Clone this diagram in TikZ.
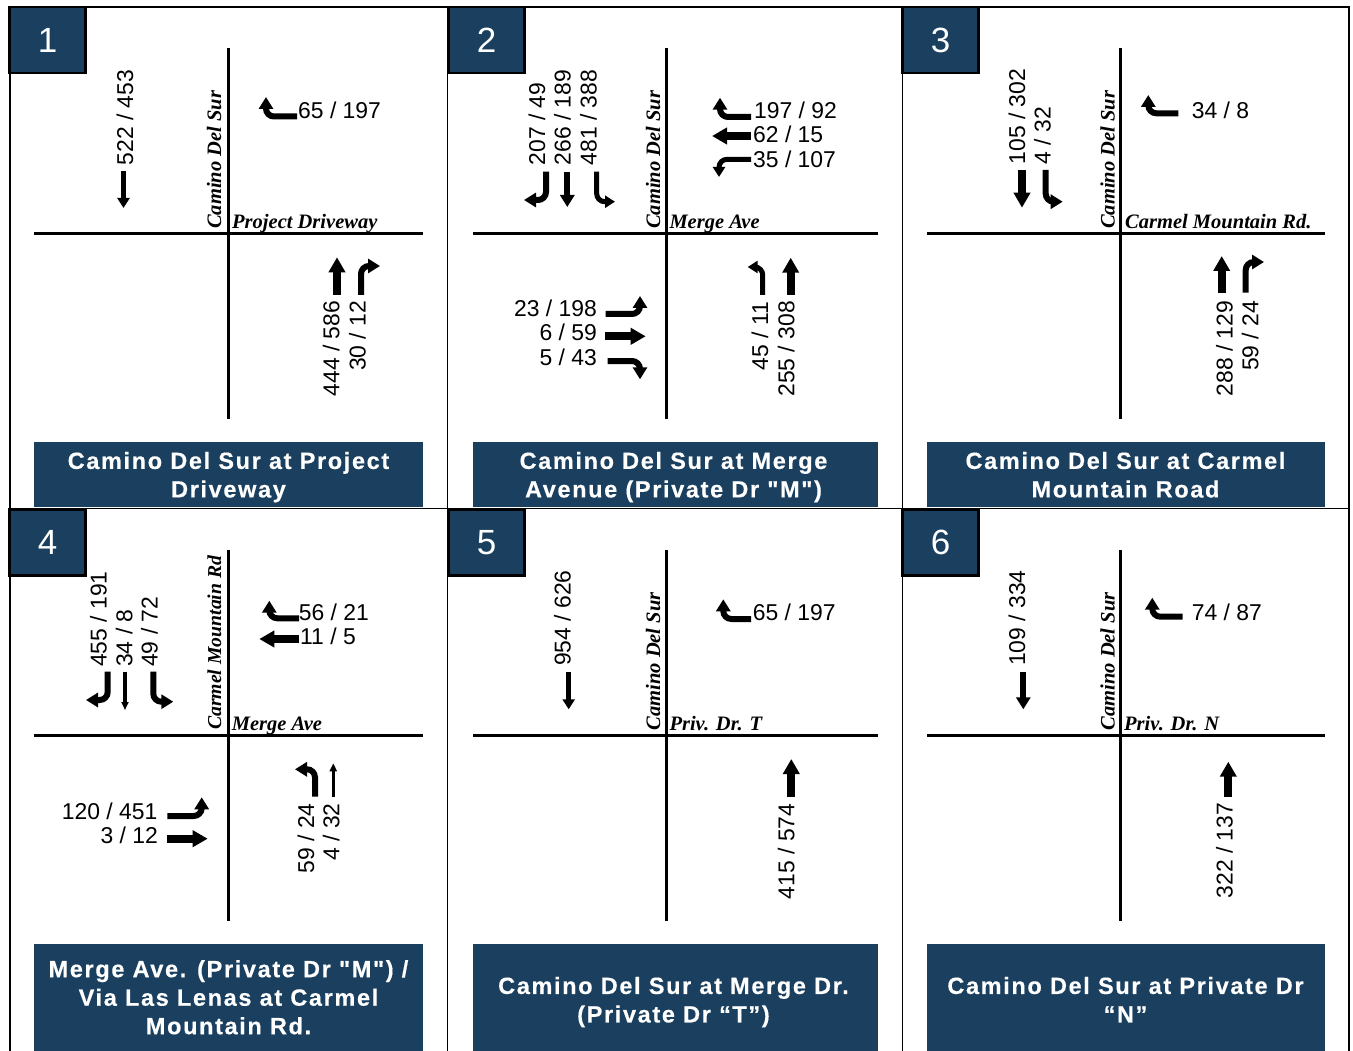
\documentclass[tikz,border=0pt]{standalone}
\usepackage{fontspec}
\setmainfont{Liberation Sans}
\newfontfamily\timesfont{Liberation Serif}
\newfontfamily\titlefont[LetterSpace=7, BoldFeatures={FakeBold=0.4}]{Liberation Sans}
\usepackage{tikz}
\usetikzlibrary{arrows.meta}
\definecolor{darknavy}{RGB}{26,63,95}

\begin{document}
\begin{tikzpicture}[
  x=1pt, y=-1pt,
  road/.style={line width=3pt},
  frameline/.style={line width=1.6pt},
  mvheavy/.style={line width=8pt, -{Triangle[width=16pt, length=15pt]}},
  mvmed/.style={line width=6pt, -{Triangle[width=14pt, length=12pt]}},
  mvlight/.style={line width=5pt, -{Triangle[width=12pt, length=10pt]}},
  mvthin/.style={line width=3.5pt, -{Triangle[width=7pt, length=8pt]}},
  turn/.style={rounded corners=8pt},
  vol/.style={inner sep=0pt, font=\fontsize{22.9}{23}\selectfont},
  volup/.style={vol, rotate=90},
  roadname/.style={inner sep=0pt, font=\timesfont\bfseries\itshape\fontsize{20.5}{20.5}\selectfont},
  roadup/.style={roadname, rotate=90, anchor=base west},
  numbox/.style={draw=black, line width=2.5pt, fill=darknavy, text=white, minimum width=76pt, minimum height=66pt, inner sep=0pt, font=\fontsize{35}{35}\selectfont},
  titlebar/.style={fill=darknavy, inner sep=0pt},
  titletext/.style={text=white, inner sep=0pt, align=center, font=\titlefont\bfseries\fontsize{23.5}{28.5}\selectfont}
]
\useasboundingbox (0,0) rectangle (1353,1051);

\node[titlebar, minimum width=389pt, minimum height=65pt] (bar1) at (228.5,474.5) {};
\node[titlebar, minimum width=405pt, minimum height=65pt] (bar2) at (675.5,474.5) {};
\node[titlebar, minimum width=398pt, minimum height=65pt] (bar3) at (1126,474.5) {};
\node[titlebar, minimum width=389pt, minimum height=107pt] (bar4) at (228.5,997.5) {};
\node[titlebar, minimum width=405pt, minimum height=107pt] (bar5) at (675.5,997.5) {};
\node[titlebar, minimum width=398pt, minimum height=107pt] (bar6) at (1126,997.5) {};
\node[titletext, yshift=-3pt] (title1) at (bar1) {\strut Camino Del Sur at Project\\\strut Driveway};
\node[titletext, xshift=-2pt, yshift=-3pt] (title2) at (bar2) {\strut Camino Del Sur at Merge\\\strut Avenue (Private Dr "M")};
\node[titletext, xshift=-0.5pt, yshift=-3pt] (title3) at (bar3) {\strut Camino Del Sur at Carmel\\\strut Mountain Road};
\node[titletext, yshift=-2.5pt] (title4) at (bar4) {\strut Merge Ave. (Private Dr "M") /\\\strut Via Las Lenas at Carmel\\\strut Mountain Rd.};
\node[titletext, xshift=-2pt, yshift=-5pt] (title5) at (bar5) {\strut Camino Del Sur at Merge Dr.\\\strut (Private Dr “T”)};
\node[titletext, xshift=-0.5pt, yshift=-5pt] (title6) at (bar6) {\strut Camino Del Sur at Private Dr\\\strut “N”};

\draw[frameline] (10,1051) -- (10,7) -- (1349,7) -- (1349,1051);
\draw[frameline] (447.5,7) -- (447.5,1051);
\draw[frameline] (902.5,7) -- (902.5,1051);
\draw[frameline] (8,508.5) -- (1349,508.5);

\node[numbox] (num1) at (47.5,40) {1};
\node[numbox] (num2) at (486.5,40) {2};
\node[numbox] (num3) at (940.5,40) {3};
\node[numbox] (num4) at (47.5,542.5) {4};
\node[numbox] (num5) at (486.5,542.5) {5};
\node[numbox] (num6) at (940.5,542.5) {6};

\draw[road] (228,48) -- (228,419);
\draw[road] (34,233.5) -- (423,233.5);
\draw[road] (666.5,48) -- (666.5,419);
\draw[road] (473,233.5) -- (878,233.5);
\draw[road] (1120.5,48) -- (1120.5,419);
\draw[road] (927,233.5) -- (1325,233.5);
\draw[road] (228,550) -- (228,921);
\draw[road] (34,735.5) -- (423,735.5);
\draw[road] (666.5,550) -- (666.5,921);
\draw[road] (473,735.5) -- (878,735.5);
\draw[road] (1120.5,550) -- (1120.5,921);
\draw[road] (927,735.5) -- (1325,735.5);

\node[roadup] (road1v) at (221.2,229) {Camino Del Sur};
\node[roadname, anchor=base west] (road1h) at (232,228.5) {Project Driveway};
\node[roadup] (road2v) at (660.2,229) {Camino Del Sur};
\node[roadname, anchor=base west] (road2h) at (669.3,228.5) {Merge Ave};
\node[roadup] (road3v) at (1114.5,229) {Camino Del Sur};
\node[roadname, anchor=base west] (road3h) at (1125,228.5) {Carmel Mountain Rd.};
\node[roadup, font=\timesfont\bfseries\itshape\fontsize{19.7}{20}\selectfont] (road4v) at (221.2,730) {Carmel Mountain Rd};
\node[roadname, anchor=base west] (road4h) at (231.7,730.5) {Merge Ave};
\node[roadup] (road5v) at (660.2,730.5) {Camino Del Sur};
\node[roadname, anchor=base west] (road5h) at (669.3,730.5) {Priv. Dr. T};
\node[roadup] (road6v) at (1114.5,730.5) {Camino Del Sur};
\node[roadname, anchor=base west] (road6h) at (1124,730.5) {Priv. Dr. N};

\node[volup, anchor=base west] (v1a) at (133,165.5) {522 / 453};
\node[vol, anchor=base west] (v1b) at (298,118.5) {65 / 197};
\node[volup, anchor=base east] (v1c) at (339.3,300.7) {444 / 586};
\node[volup, anchor=base east] (v1d) at (365.7,300.7) {30 / 12};
\draw[mvlight] (123.5,171) -- (123.5,208);
\draw[mvmed, turn] (297,116.5) -- (266,116.5) -- (266,97);
\draw[mvheavy] (337,295) -- (337,257.3);
\draw[mvmed, turn] (361,295) -- (361,266) -- (380,266);

\node[volup, anchor=base west] (v2a) at (545,165.5) {207 / 49};
\node[volup, anchor=base west] (v2b) at (570.7,165.5) {266 / 189};
\node[volup, anchor=base west] (v2c) at (596.7,165.5) {481 / 388};
\node[vol, anchor=base west] (v2d) at (754,118.5) {197 / 92};
\node[vol, anchor=base west] (v2e) at (753,142.5) {62 / 15};
\node[vol, anchor=base west] (v2f) at (753,167.7) {35 / 107};
\node[vol, anchor=base east] (v2g) at (597,316.5) {23 / 198};
\node[vol, anchor=base east] (v2h) at (597,341) {6 / 59};
\node[vol, anchor=base east] (v2i) at (597,365) {5 / 43};
\node[volup, anchor=base east] (v2j) at (768,302) {45 / 11};
\node[volup, anchor=base east] (v2k) at (794.3,301) {255 / 308};
\draw[mvmed, turn] (546,171.7) -- (546,200) -- (524,200);
\draw[mvmed] (567.3,171.7) -- (567.3,207);
\draw[mvlight, turn] (596.7,171.7) -- (596.7,201.7) -- (615,201.7);
\draw[mvmed, turn] (751,117) -- (720,117) -- (720,97.7);
\draw[mvheavy] (751,136) -- (712,136);
\draw[mvlight, turn] (751,159.3) -- (719,159.3) -- (719,177);
\draw[mvmed, turn] (605.5,314) -- (640,314) -- (640,296);
\draw[mvheavy] (605,336.3) -- (645.7,336.3);
\draw[mvmed, turn] (607.7,361) -- (640,361) -- (640,379.3);
\draw[mvlight, turn] (762.7,295) -- (762.7,267) -- (747.7,267);
\draw[mvheavy] (790.7,295) -- (790.7,257.7);

\node[volup, anchor=base west] (v3a) at (1025,164.5) {105 / 302};
\node[volup, anchor=base west] (v3b) at (1050.7,164.5) {4 / 32};
\node[vol, anchor=base west] (v3c) at (1191.7,118.5) {34 / 8};
\node[volup, anchor=base east] (v3d) at (1232.7,300.7) {288 / 129};
\node[volup, anchor=base east] (v3e) at (1258.3,300.7) {59 / 24};
\draw[mvheavy] (1022,170) -- (1022,207.7);
\draw[mvmed, turn] (1045.7,170) -- (1045.7,201.7) -- (1062.7,201.7);
\draw[mvmed, turn] (1178.3,113.3) -- (1148.3,113.3) -- (1148.3,95);
\draw[mvheavy] (1221.7,292.7) -- (1221.7,256);
\draw[mvmed, turn] (1245.7,292.7) -- (1245.7,262) -- (1264,262);

\node[volup, anchor=base west] (v4a) at (106.7,667) {455 / 191};
\node[volup, anchor=base west] (v4b) at (132.3,667) {34 / 8};
\node[volup, anchor=base west] (v4c) at (157.7,667) {49 / 72};
\node[vol, anchor=base west] (v4d) at (298.7,620) {56 / 21};
\node[vol, anchor=base west] (v4e) at (300,644) {11 / 5};
\node[vol, anchor=base east] (v4f) at (157.5,819) {120 / 451};
\node[vol, anchor=base east] (v4g) at (158,843.5) {3 / 12};
\node[volup, anchor=base east] (v4h) at (314,803.3) {59 / 24};
\node[volup, anchor=base east] (v4i) at (339.3,803.3) {4 / 32};
\draw[mvmed, turn] (107.7,671.7) -- (107.7,700) -- (86,700);
\draw[mvthin] (125,671.7) -- (125,710);
\draw[mvmed, turn] (153.3,671.7) -- (153.3,701.7) -- (173.3,701.7);
\draw[mvmed, turn] (299,618.3) -- (269.3,618.3) -- (269.3,600.7);
\draw[mvheavy] (299,639) -- (259.3,639);
\draw[mvmed, turn] (167.3,816) -- (201.7,816) -- (201.7,797.3);
\draw[mvheavy] (167.3,838.7) -- (207.7,838.7);
\draw[mvmed, turn] (315,796.7) -- (315,769.3) -- (295,769.3);
\draw[mvthin] (333.3,796.7) -- (333.3,763.3);

\node[volup, anchor=base west] (v5a) at (570.7,666) {954 / 626};
\node[vol, anchor=base west] (v5b) at (752.7,620) {65 / 197};
\node[volup, anchor=base east] (v5c) at (794.3,803.3) {415 / 574};
\draw[mvlight] (568.7,671.7) -- (568.7,709.3);
\draw[mvmed, turn] (751,619) -- (723.3,619) -- (723.3,599.3);
\draw[mvheavy] (791.3,796.7) -- (791.3,759);

\node[volup, anchor=base west] (v6a) at (1025,666) {109 / 334};
\node[vol, anchor=base west] (v6b) at (1191.7,620) {74 / 87};
\node[volup, anchor=base east] (v6c) at (1232.7,802.7) {322 / 137};
\draw[mvmed] (1023.3,671.7) -- (1023.3,709.3);
\draw[mvmed, turn] (1182.7,616.7) -- (1152.3,616.7) -- (1152.3,597.7);
\draw[mvheavy] (1228.3,796.7) -- (1228.3,761.7);
\end{tikzpicture}
\end{document}
